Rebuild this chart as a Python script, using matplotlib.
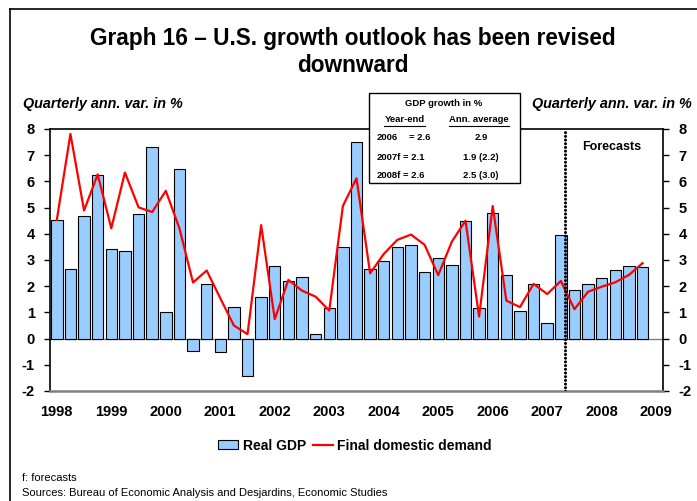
import numpy as np
import matplotlib
matplotlib.use("Agg")
import matplotlib.pyplot as plt
from matplotlib.patches import Rectangle, Patch
from matplotlib.lines import Line2D

plt.rcParams['font.family'] = ['Liberation Sans', 'DejaVu Sans']

# quarterly annualized growth, 1998Q1 .. 2008Q4
real_gdp = [4.52, 2.67, 4.69, 6.23, 3.43, 3.36, 4.77, 7.33, 1.0, 6.46,
            -0.48, 2.1, -0.52, 1.22, -1.42, 1.58, 2.76, 2.19, 2.37, 0.19,
            1.18, 3.49, 7.52, 2.65, 2.95, 3.49, 3.59, 2.54, 3.07, 2.82,
            4.47, 1.18, 4.81, 2.44, 1.04, 2.1, 0.6, 3.96, 1.86, 2.1,
            2.32, 2.62, 2.79, 2.72]
final_demand = [4.53, 7.81, 4.89, 6.27, 4.21, 6.34, 5.01, 4.83, 5.64, 4.21,
                2.14, 2.6, 1.54, 0.5, 0.17, 4.33, 0.74, 2.24, 1.83, 1.6,
                1.07, 5.06, 6.12, 2.49, 3.23, 3.77, 3.97, 3.58, 2.42, 3.7,
                4.5, 0.84, 5.06, 1.45, 1.2, 2.09, 1.7, 2.2, 1.12, 1.79,
                1.98, 2.15, 2.43, 2.88]
years = [str(y) for y in range(1998, 2010)]
yticks = list(range(-2, 9))
forecast_start = 37.3

# inset table
table_title = "GDP growth in %"
table_head = ["Year-end", "Ann. average"]
table_years = ["2006", "2007f", "2008f"]
table_yearend = ["= 2.6", "= 2.1", "= 2.6"]
table_avg = ["2.9", "1.9 (2.2)", "2.5 (3.0)"]

W, H = 697, 501
def fx(x):
    return x / W
def fy(y):
    return 1 - y / H

fig = plt.figure(figsize=(W / 100, H / 100), dpi=100)
ax = fig.add_axes([fx(50), fy(391), fx(663) - fx(50), fy(129) - fy(391)])

x = np.arange(len(real_gdp))
ax.bar(x, real_gdp, width=0.84, color='#99CCFF', edgecolor='black', linewidth=0.8, zorder=2)
ax.plot(x, final_demand, color='#FF0000', lw=1.6, zorder=3)
ax.axhline(0, color='#808080', lw=1.0, zorder=1)
# forecast separator
ax.axvline(forecast_start, color='black', lw=2.2, linestyle=(0, (0.01, 1.2)),
           dash_capstyle='round', zorder=4)

ax.set_xlim(-0.5, 44.5)
ax.set_ylim(-2, 8)
ax.set_yticks(yticks)
ax.set_yticklabels([str(t) for t in yticks], fontsize=10.5, fontweight='bold')
ax.set_xticks(np.arange(0, 4 * len(years), 4))
ax.set_xticklabels(years, fontsize=10.5, fontweight='bold')
ax.tick_params(axis='x', length=0, pad=10)
ax.tick_params(axis='y', direction='out', length=4, width=1, left=True, right=True,
               labelleft=True, labelright=True, pad=7)

for s in ['left', 'right', 'top']:
    ax.spines[s].set_color('black')
    ax.spines[s].set_linewidth(1.2)
ax.spines['bottom'].set_color('#808080')
ax.spines['bottom'].set_linewidth(1.8)

fig.text(fx(612), fy(147), "Forecasts", fontsize=9, fontweight='bold', ha='center', va='center')

# title
fig.text(fx(353), fy(45), "Graph 16 \u2013 U.S. growth outlook has been revised",
         fontsize=16.3, fontweight='bold', ha='center', va='baseline')
fig.text(fx(353), fy(72), "downward", fontsize=16.3, fontweight='bold', ha='center', va='baseline')

# axis captions
fig.text(fx(23), fy(108), "Quarterly ann. var. in %", fontsize=10.4, fontweight='bold',
         style='italic', ha='left', va='baseline')
fig.text(fx(692), fy(108), "Quarterly ann. var. in %", fontsize=10.4, fontweight='bold',
         style='italic', ha='right', va='baseline')

# inset box
box = Rectangle((fx(369), fy(183)), fx(520) - fx(369), fy(93) - fy(183), transform=fig.transFigure,
                facecolor='white', edgecolor='black', lw=1.0, zorder=5)
fig.add_artist(box)
fig.text(fx(444), fy(104), table_title, fontsize=6.8, fontweight='bold', ha='center', va='center', zorder=6)
fig.text(fx(404.5), fy(120), table_head[0], fontsize=6.8, fontweight='bold', ha='center', va='center', zorder=6)
fig.text(fx(479), fy(120), table_head[1], fontsize=6.8, fontweight='bold', ha='center', va='center', zorder=6)
for x0, x1 in [(384, 425), (449, 509)]:
    fig.add_artist(Line2D([fx(x0), fx(x1)], [fy(126), fy(126)], transform=fig.transFigure,
                          color='black', lw=0.8, zorder=6))
row_y = [138, 157, 175]
eq_x = [409, 403, 403]
for i in range(3):
    fig.text(fx(377), fy(row_y[i]), table_years[i], fontsize=6.8, fontweight='bold', ha='left', va='center', zorder=6)
    fig.text(fx(eq_x[i]), fy(row_y[i]), table_yearend[i], fontsize=6.8, fontweight='bold', ha='left', va='center', zorder=6)
    fig.text(fx(481), fy(row_y[i]), table_avg[i], fontsize=6.8, fontweight='bold', ha='center', va='center', zorder=6)

# legend
handles = [Patch(facecolor='#99CCFF', edgecolor='black', linewidth=0.8),
           Line2D([0], [0], color='#FF0000', lw=1.6)]
leg = fig.legend(handles, ["Real GDP", "Final domestic demand"], loc='center',
                 bbox_to_anchor=(fx(355), fy(445.5)), ncol=2, frameon=False,
                 prop={'size': 10, 'weight': 'bold'}, handlelength=1.45, handleheight=0.55,
                 handletextpad=0.3, columnspacing=0.5, borderpad=0)

# footer
fig.text(fx(22), fy(478), "f: forecasts", fontsize=8, ha='left', va='center')
fig.text(fx(22), fy(492.5), "Sources: Bureau of Economic Analysis and Desjardins, Economic Studies",
         fontsize=8, ha='left', va='center')

# outer frame (left and top edges)
fig.add_artist(Line2D([fx(9.5), fx(9.5)], [0, fy(9)], transform=fig.transFigure, color='black', lw=1.2))
fig.add_artist(Line2D([fx(9.5), 1], [fy(9), fy(9)], transform=fig.transFigure, color='black', lw=1.2))

fig.savefig("out.png", dpi=100)
